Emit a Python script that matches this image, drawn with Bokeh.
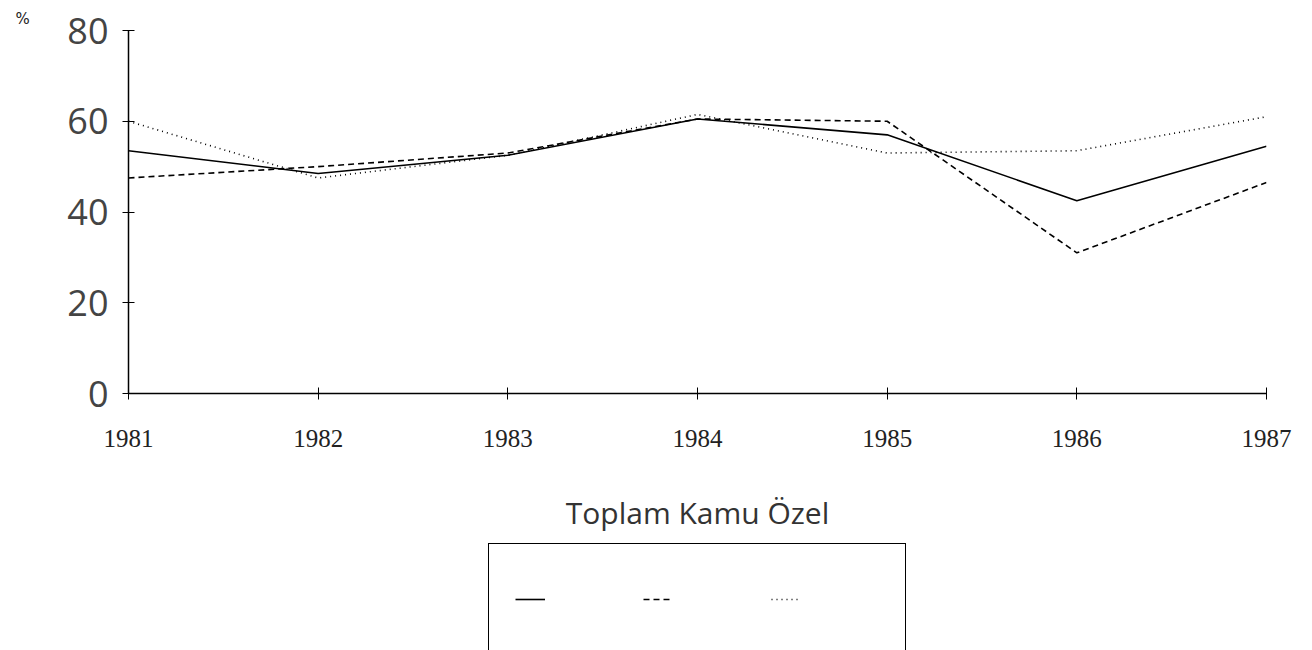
from bokeh.plotting import figure
from bokeh.models import (Range1d, FixedTicker, Legend, LegendItem, Title,
                          ColumnDataSource)
from bokeh.layouts import column
from bokeh.embed import file_html
from bokeh.resources import INLINE

# ---- data ----
years = [1981, 1982, 1983, 1984, 1985, 1986, 1987]
toplam = [53.5, 48.5, 52.5, 60.5, 57.0, 42.5, 54.5]
kamu = [47.5, 50.0, 53.0, 60.5, 60.0, 31.0, 46.5]
ozel = [60.0, 47.5, 52.5, 61.5, 53.0, 53.5, 61.0]
y_ticks = [0, 20, 40, 60, 80]
title_text = "Toplam Kamu Özel"
unit_text = "%"

src = ColumnDataSource(dict(year=years, toplam=toplam, kamu=kamu, ozel=ozel))
styles = [("toplam", None), ("kamu", "6 4"), ("ozel", "1 4")]

# ---- main chart ----
p = figure(width=1312, height=542, output_backend="svg", toolbar_location=None,
           x_range=Range1d(1981, 1987), y_range=Range1d(0, 80),
           min_border_left=128, min_border_right=46,
           min_border_top=30, min_border_bottom=149)
p.outline_line_color = None
p.xgrid.visible = False
p.ygrid.visible = False

for col, dash in styles:
    kw = {} if dash is None else {"line_dash": dash}
    p.line("year", col, source=src, line_color="black", line_width=1.6, **kw)

xa = p.xaxis[0]
xa.ticker = FixedTicker(ticks=years)
xa.axis_line_color = "black"
xa.axis_line_width = 1.5
xa.major_tick_line_color = "black"
xa.major_tick_in = 6
xa.major_tick_out = 6
xa.minor_tick_line_color = None
xa.major_label_standoff = 30
xa.major_label_text_font = "Liberation Serif"
xa.major_label_text_font_size = "25px"
xa.major_label_text_color = "#222222"
xa.axis_label = title_text
xa.axis_label_text_font = "Open Sans"
xa.axis_label_text_font_style = "normal"
xa.axis_label_text_font_size = "30px"
xa.axis_label_text_color = "#333333"
xa.axis_label_standoff = 42

ya = p.yaxis[0]
ya.ticker = FixedTicker(ticks=y_ticks)
ya.axis_line_color = "black"
ya.axis_line_width = 1.5
ya.major_tick_line_color = "black"
ya.major_tick_in = 6
ya.major_tick_out = 6
ya.minor_tick_line_color = None
ya.major_label_standoff = 14
ya.major_label_text_font = "Open Sans"
ya.major_label_text_font_size = "36px"
ya.major_label_text_color = "#444444"

p.add_layout(Title(text=unit_text, align="left", offset=-113,
                   text_font="DejaVu Sans", text_font_size="15px",
                   text_font_style="normal", text_color="#222222",
                   standoff=6), "above")

# ---- legend strip (same source; its lines fall outside this strip's ranges) ----
p2 = figure(width=1312, height=108, output_backend="svg", toolbar_location=None,
            x_range=Range1d(0, 1), y_range=Range1d(0, 1),
            x_axis_type=None, y_axis_type=None,
            min_border_left=128, min_border_top=1,
            min_border_right=46, min_border_bottom=0)
p2.outline_line_color = None
p2.xgrid.visible = False
p2.ygrid.visible = False

items = []
for col, dash in styles:
    kw = {} if dash is None else {"line_dash": dash}
    r = p2.line("year", col, source=src, line_color="black", line_width=1.6, **kw)
    items.append(LegendItem(label=" ", renderers=[r]))

legend = Legend(items=items, orientation="horizontal", location="top_center",
                margin=0, padding=26, spacing=20,
                glyph_width=30, glyph_height=58,
                label_width=78, label_height=58, label_standoff=0,
                label_text_font_size="2px",
                border_line_color="black", border_line_alpha=1.0,
                border_line_width=1.5,
                background_fill_color="white", background_fill_alpha=1.0)
p2.add_layout(legend, "center")

layout = column(p, p2, spacing=0)
open("out.html", "w").write(file_html(layout, INLINE))
